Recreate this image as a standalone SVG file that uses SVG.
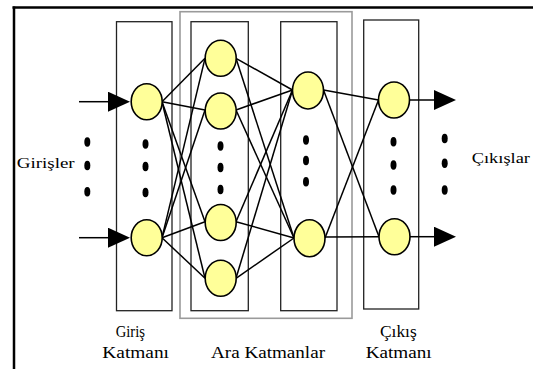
<svg xmlns="http://www.w3.org/2000/svg" width="533" height="369" viewBox="0 0 533 369">
<defs>
<style>
.frame{stroke:#000;stroke-width:2.5;fill:none}
.layer{fill:none;stroke:#222;stroke-width:1.3}
.group{fill:none;stroke:#9a9a9a;stroke-width:1.6}
.node{fill:#ffff99;stroke:#000;stroke-width:1.6}
.dot{fill:#000}
.conn line{stroke:#000;stroke-width:1.5}
.arrow{stroke:#000;stroke-width:2}
</style>
<marker id="ah" markerWidth="22" markerHeight="20" refX="0" refY="10" orient="auto" markerUnits="userSpaceOnUse">
<polygon points="0,0 22,10 0,20" fill="#000"/>
</marker>
</defs>
<rect width="533" height="369" fill="#fff"/>
<line class="frame" x1="12.5" y1="7.5" x2="533" y2="7.5"/>
<line class="frame" x1="14" y1="6.5" x2="14" y2="369"/>

<rect class="group" x="180" y="11.7" width="172" height="306.6"/>
<g id="layer-input"><rect class="layer" x="116.5" y="21.7" width="55.5" height="289"/></g>
<g id="layer-hidden1"><rect class="layer" x="191" y="21.7" width="57.3" height="289"/></g>
<g id="layer-hidden2"><rect class="layer" x="280.7" y="21.7" width="56.3" height="289"/></g>
<g id="layer-output"><rect class="layer" x="363.7" y="20" width="55" height="289"/></g>

<g id="connectors" class="conn">
<line x1="162" y1="101.7" x2="205" y2="58.3"/>
<line x1="162" y1="101.7" x2="205" y2="110"/>
<line x1="162" y1="101.7" x2="205" y2="221.7"/>
<line x1="162" y1="101.7" x2="205" y2="278.3"/>
<line x1="162" y1="237.7" x2="205" y2="58.3"/>
<line x1="162" y1="237.7" x2="205" y2="110"/>
<line x1="162" y1="237.7" x2="205" y2="221.7"/>
<line x1="162" y1="237.7" x2="205" y2="278.3"/>
<line x1="236" y1="58.3" x2="292.5" y2="90"/>
<line x1="236" y1="58.3" x2="294" y2="238"/>
<line x1="236" y1="110" x2="292.5" y2="90"/>
<line x1="236" y1="110" x2="294" y2="238"/>
<line x1="236" y1="221.7" x2="292.5" y2="90"/>
<line x1="236" y1="221.7" x2="294" y2="238"/>
<line x1="236" y1="278.3" x2="292.5" y2="90"/>
<line x1="236" y1="278.3" x2="294" y2="238"/>
<line x1="323.5" y1="90" x2="378.5" y2="100"/>
<line x1="323.5" y1="90" x2="379" y2="236.7"/>
<line x1="325" y1="238" x2="378.5" y2="100"/>
<line x1="325" y1="237" x2="379" y2="236.7"/>
<line class="arrow" x1="79" y1="101.7" x2="108" y2="101.7" marker-end="url(#ah)"/>
<line class="arrow" x1="79" y1="237.7" x2="108" y2="237.7" marker-end="url(#ah)"/>
<line class="arrow" x1="409" y1="100" x2="434" y2="100" marker-end="url(#ah)"/>
<line class="arrow" x1="409" y1="236.7" x2="434" y2="236.7" marker-end="url(#ah)"/>
</g>

<g id="input-nodes">
<ellipse id="i1" class="node" cx="146.7" cy="101.7" rx="15.5" ry="18"/>
<ellipse id="i2" class="node" cx="146.7" cy="237.7" rx="15.5" ry="18"/>
</g>
<g id="hidden1-nodes">
<ellipse id="h1a" class="node" cx="220.7" cy="58.3" rx="15.5" ry="18"/>
<ellipse id="h1b" class="node" cx="220.7" cy="111" rx="15.5" ry="18"/>
<ellipse id="h1c" class="node" cx="220.7" cy="222.5" rx="15.5" ry="18"/>
<ellipse id="h1d" class="node" cx="220.7" cy="278.3" rx="15.5" ry="18"/>
</g>
<g id="hidden2-nodes">
<ellipse id="h2a" class="node" cx="308" cy="90.5" rx="15.5" ry="18.5"/>
<ellipse id="h2b" class="node" cx="309.5" cy="238.2" rx="15.5" ry="18.5"/>
</g>
<g id="output-nodes">
<ellipse id="o1" class="node" cx="394" cy="100" rx="15.5" ry="18"/>
<ellipse id="o2" class="node" cx="394.5" cy="236.7" rx="15.5" ry="18"/>
</g>

<g id="dots">
<ellipse class="dot" cx="87.3" cy="142" rx="3" ry="4.8"/>
<ellipse class="dot" cx="87.3" cy="165.5" rx="3" ry="4.8"/>
<ellipse class="dot" cx="87.3" cy="191.7" rx="3" ry="4.8"/>
<ellipse class="dot" cx="145.5" cy="144" rx="3" ry="4.8"/>
<ellipse class="dot" cx="145.5" cy="166.5" rx="3" ry="4.8"/>
<ellipse class="dot" cx="145.5" cy="192.5" rx="3" ry="4.8"/>
<ellipse class="dot" cx="220.5" cy="146" rx="3" ry="4.8"/>
<ellipse class="dot" cx="220.5" cy="167.5" rx="3" ry="4.8"/>
<ellipse class="dot" cx="220.5" cy="189.5" rx="3" ry="4.8"/>
<ellipse class="dot" cx="306" cy="140" rx="3" ry="4.8"/>
<ellipse class="dot" cx="306" cy="160.5" rx="3" ry="4.8"/>
<ellipse class="dot" cx="306" cy="181.7" rx="3" ry="4.8"/>
<ellipse class="dot" cx="393.5" cy="141.7" rx="3" ry="4.8"/>
<ellipse class="dot" cx="393.5" cy="165" rx="3" ry="4.8"/>
<ellipse class="dot" cx="393.5" cy="190" rx="3" ry="4.8"/>
<ellipse class="dot" cx="444.7" cy="138.5" rx="3" ry="4.8"/>
<ellipse class="dot" cx="444.7" cy="163.3" rx="3" ry="4.8"/>
<ellipse class="dot" cx="444.7" cy="190" rx="3" ry="4.8"/>
</g>

<g id="labels" font-family="'Liberation Serif', 'Times New Roman', serif" fill="#000">
<text x="16.7" y="167.7" font-size="15" textLength="58" lengthAdjust="spacingAndGlyphs">Girişler</text>
<text x="471.7" y="163.3" font-size="15" textLength="58.3" lengthAdjust="spacingAndGlyphs">Çıkışlar</text>
<text x="115.7" y="336.7" font-size="16.5" textLength="29.3" lengthAdjust="spacingAndGlyphs">Giriş</text>
<text x="102.3" y="358.3" font-size="16.5" textLength="66.7" lengthAdjust="spacingAndGlyphs">Katmanı</text>
<text x="211" y="358.3" font-size="16.5" textLength="114" lengthAdjust="spacingAndGlyphs">Ara Katmanlar</text>
<text x="380" y="336.7" font-size="16.5" textLength="36.7" lengthAdjust="spacingAndGlyphs">Çıkış</text>
<text x="365.7" y="358.3" font-size="16.5" textLength="66" lengthAdjust="spacingAndGlyphs">Katmanı</text>
</g>
</svg>
